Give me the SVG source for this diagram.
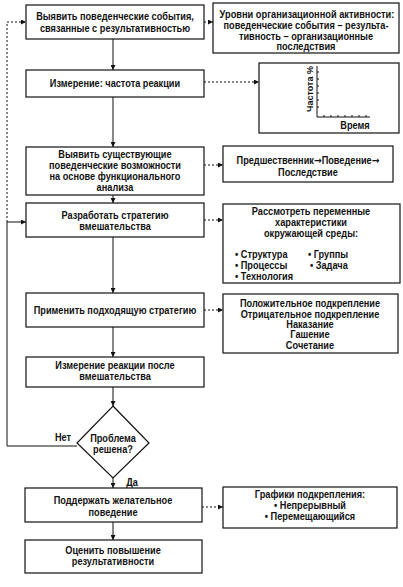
<svg xmlns="http://www.w3.org/2000/svg" width="403" height="587" viewBox="0 0 403 587">
<style>
.box{fill:#fff;stroke:#111;stroke-width:1.2}
.t{font-family:"Liberation Sans",Arial,sans-serif;font-weight:bold;font-size:10px;fill:#111;text-anchor:middle;transform-box:fill-box;transform-origin:center;transform:scaleX(0.92)}
.l{text-anchor:start;transform-origin:left center}
.rt{font-family:"Liberation Sans",Arial,sans-serif;font-weight:bold;font-size:9px;fill:#111;text-anchor:middle}
.ar{font-family:"DejaVu Sans",sans-serif;font-weight:bold}
.c{fill:none;stroke:#111;stroke-width:1}
.d{fill:none;stroke:#111;stroke-width:1;stroke-dasharray:2,2}
</style>
<defs>
<marker id="a" viewBox="0 0 8 8" refX="8" refY="4" markerWidth="5" markerHeight="5" orient="auto" markerUnits="userSpaceOnUse"><path d="M0,0L8,4L0,8z" fill="#111"/></marker>
</defs>
<rect width="403" height="587" fill="#fff"/>
<g id="connectors">
<path class="c" d="M113,39V70" marker-end="url(#a)"/>
<path class="c" d="M113,97V147" marker-end="url(#a)"/>
<path class="c" d="M113,195V203" marker-end="url(#a)"/>
<path class="c" d="M113,237V293" marker-end="url(#a)"/>
<path class="c" d="M113,327V357" marker-end="url(#a)"/>
<path class="c" d="M113,387V406" marker-end="url(#a)"/>
<path class="c" d="M113,478V488" marker-end="url(#a)"/>
<path class="c" d="M113,522V540" marker-end="url(#a)"/>
<path class="c" d="M77,446H7V222H26" marker-end="url(#a)"/>
<path class="d" d="M7,222V22H26" marker-end="url(#a)"/>
<path class="d" d="M204,22H213" marker-end="url(#a)"/>
<path class="d" d="M204,82H259" marker-end="url(#a)"/>
<path class="d" d="M204,165H223" marker-end="url(#a)"/>
<path class="d" d="M204,220H223" marker-end="url(#a)"/>
<path class="d" d="M204,310H223" marker-end="url(#a)"/>
<path class="d" d="M202,507H223" marker-end="url(#a)"/>
</g>
<g id="n1"><rect class="box" x="26" y="5" width="178" height="34"/><text class="t" x="115" y="20">Выявить поведенческие события,</text><text class="t" x="115" y="32">связанные с результативностью</text></g>
<g id="n2"><rect class="box" x="26" y="70" width="178" height="27"/><text class="t" x="115" y="87">Измерение: частота реакции</text></g>
<g id="n3"><rect class="box" x="26" y="147" width="178" height="48"/><text class="t" x="115" y="158">Выявить существующие</text><text class="t" x="115" y="169">поведенческие возможности</text><text class="t" x="115" y="180">на основе функционального</text><text class="t" x="115" y="191">анализа</text></g>
<g id="n4"><rect class="box" x="26" y="203" width="178" height="34"/><text class="t" x="115" y="219">Разработать стратегию</text><text class="t" x="115" y="230">вмешательства</text></g>
<g id="n5"><rect class="box" x="26" y="293" width="178" height="34"/><text class="t" x="115" y="314">Применить подходящую стратегию</text></g>
<g id="n6"><rect class="box" x="26" y="357" width="178" height="30"/><text class="t" x="115" y="369">Измерение реакции после</text><text class="t" x="115" y="380">вмешательства</text></g>
<g id="n7"><path class="box" d="M113,406L149,443L113,478L77,443Z"/><text class="t" x="113" y="442">Проблема</text><text class="t" x="113" y="453">решена?</text></g>
<text class="t" x="63" y="441">Нет</text>
<text class="t" x="132" y="486">Да</text>
<g id="n8"><rect class="box" x="25" y="488" width="177" height="34"/><text class="t" x="113" y="504">Поддержать желательное</text><text class="t" x="113" y="516">поведение</text></g>
<g id="n9"><rect class="box" x="25" y="540" width="177" height="33"/><text class="t" x="113" y="554">Оценить повышение</text><text class="t" x="113" y="565">результативности</text></g>
<g id="r1"><rect class="box" x="213" y="3" width="186" height="50"/><text class="t" x="307" y="18" textLength="190" lengthAdjust="spacingAndGlyphs">Уровни организационной активности:</text><text class="t" x="306" y="29">поведенческие события  – результа-</text><text class="t" x="306" y="40">тивность – организационные</text><text class="t" x="306" y="50">последствия</text></g>
<g id="r2"><rect class="box" x="259" y="63" width="140" height="70"/>
<path class="c" d="M317,66V117H370"/>
<path class="c" d="M317,72h2M317,79h2M317,86h2M317,93h2M317,100h2M317,107h2M324,117v-2M331,117v-2M338,117v-2M345,117v-2M352,117v-2M359,117v-2M366,117v-2"/>
<text class="rt" transform="translate(313,89) rotate(-90)">Частота %</text>
<text class="t" x="355" y="129">Время</text></g>
<g id="r3"><rect class="box" x="223" y="146" width="170" height="36"/><text class="t" x="308" y="164">Предшественник<tspan class="ar">→</tspan>Поведение<tspan class="ar">→</tspan></text><text class="t" x="308" y="176">Последствие</text></g>
<g id="r4"><rect class="box" x="223" y="204" width="177" height="79"/><text class="t" x="311" y="215">Рассмотреть переменные</text><text class="t" x="311" y="226">характеристики</text><text class="t" x="311" y="237">окружающей среды:</text>
<text class="t l" x="235" y="258">• Структура</text><text class="t l" x="308" y="258">• Группы</text><text class="t l" x="235" y="269">• Процессы</text><text class="t l" x="310" y="269">• Задача</text><text class="t l" x="235" y="280">• Технология</text></g>
<g id="r5"><rect class="box" x="223" y="294" width="175" height="59"/><text class="t" x="310" y="307">Положительное подкрепление</text><text class="t" x="310" y="318">Отрицательное подкрепление</text><text class="t" x="310" y="328">Наказание</text><text class="t" x="310" y="338">Гашение</text><text class="t" x="310" y="349">Сочетание</text></g>
<g id="r6"><rect class="box" x="223" y="487" width="174" height="41"/><text class="t" x="310" y="498">Графики подкрепления:</text><text class="t" x="310" y="509">• Непрерывный</text><text class="t" x="310" y="520">• Перемещающийся</text></g>
</svg>
